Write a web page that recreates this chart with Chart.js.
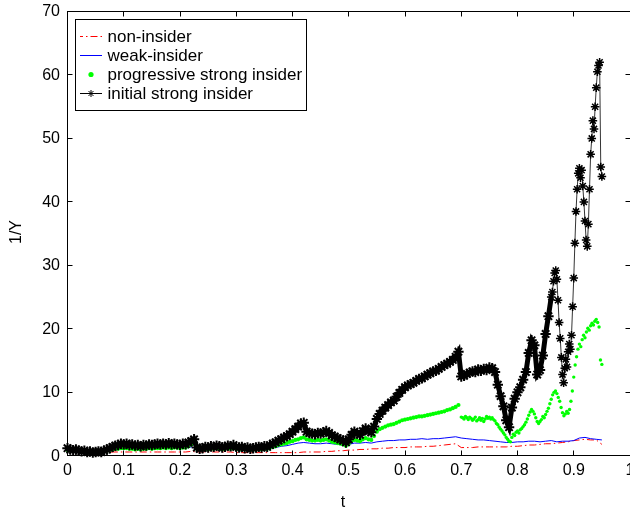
<!DOCTYPE html>
<html>
<head>
<meta charset="utf-8">
<style>
html,body{margin:0;padding:0;background:#fff;}
#wrap{width:630px;height:511px;position:relative;overflow:hidden;}
canvas{display:block;}
</style>
<script src="https://cdn.jsdelivr.net/npm/chart.js@4/dist/chart.umd.min.js"></script>
</head>
<body>
<div id="wrap"><canvas id="c" width="630" height="511"></canvas></div>
<script>
// ---------- texts ----------
const seriesLabels = ['non-insider', 'weak-insider', 'progressive strong insider', 'initial strong insider'];
const xTickLabels = ['0', '0.1', '0.2', '0.3', '0.4', '0.5', '0.6', '0.7', '0.8', '0.9', '1'];
const yTickLabels = ['0', '10', '20', '30', '40', '50', '60', '70'];
const xTitle = 't';
const yTitle = '1/Y';

// ---------- data (sampling start, sampling step) ----------
const nonInsiderStart = 0, nonInsiderStep = 0.01;
const nonInsiderValues = [
  0.9,0.8,0.7,0.6,0.5,0.5,0.5,0.5,0.6,0.6,
  0.6,0.6,0.6,0.6,0.6,0.6,0.6,0.6,0.6,0.6,
  0.6,0.6,0.7,0.6,0.6,0.6,0.6,0.6,0.6,0.6,
  0.5,0.5,0.5,0.5,0.5,0.5,0.5,0.5,0.5,0.5,
  0.5,0.5,0.6,0.6,0.6,0.6,0.7,0.7,0.8,0.8,
  0.9,0.9,1.0,1.0,1.1,1.1,1.2,1.2,1.3,1.3,
  1.3,1.4,1.4,1.4,1.5,1.5,1.6,1.7,1.8,1.9,
  1.3,1.3,1.3,1.4,1.4,1.4,1.4,1.4,1.4,1.5,
  1.5,1.6,1.7,1.7,1.8,1.9,1.9,2.0,2.1,2.2,
  2.4,2.5,2.6,2.5,2.5,1.8
];

const weakStart = 0, weakStep = 0.01;
const weakValues = [
  1.0,0.9,0.8,0.8,0.7,0.7,0.7,0.8,0.9,1.0,
  1.1,1.0,1.0,1.0,1.1,1.1,1.1,1.2,1.2,1.2,
  1.2,1.2,1.4,1.1,1.0,1.1,1.1,1.1,1.1,1.2,
  1.1,1.1,1.0,1.0,1.1,1.1,1.2,1.3,1.5,1.6,
  1.8,2.0,2.1,2.0,1.9,1.9,2.0,1.9,1.8,1.7,
  1.8,2.0,2.0,2.1,2.0,2.2,2.3,2.4,2.4,2.5,
  2.5,2.6,2.6,2.7,2.6,2.7,2.7,2.8,2.9,3.0,
  2.8,2.7,2.6,2.5,2.5,2.4,2.3,2.2,2.1,2.1,
  2.2,2.2,2.3,2.3,2.2,2.3,2.4,2.2,2.3,2.3,
  2.4,2.8,2.9,2.7,2.6,2.5
];

const progStart = 0, progStep = 0.005;
const progValues = [
  0.9,0.8,0.8,0.7,0.7,0.6,0.6,0.5,0.5,0.5,
  0.5,0.6,0.6,0.7,0.8,0.9,1.0,1.1,1.1,1.2,
  1.2,1.2,1.1,1.1,1.0,1.1,1.0,1.1,1.1,1.2,
  1.1,1.2,1.2,1.2,1.3,1.2,1.3,1.2,1.3,1.3,
  1.2,1.3,1.3,1.5,1.8,2.0,1.1,1.0,1.0,1.1,
  1.0,1.1,1.1,1.2,1.1,1.0,1.1,1.2,1.1,1.2,
  1.1,1.0,1.1,1.0,1.0,0.9,1.0,1.0,1.1,1.0,
  1.1,1.1,1.3,1.4,1.5,1.7,1.8,1.9,2.0,2.2,
  2.3,2.5,2.6,2.8,2.9,2.6,2.5,2.4,2.4,2.5,
  2.4,2.5,2.6,2.4,2.2,2.1,2.0,1.9,1.8,1.6,
  1.9,2.3,2.5,2.4,2.3,2.6,2.8,2.6,2.5,3.1,
  3.8,4.2,4.4,4.6,4.8,4.9,5.0,5.2,5.4,5.6,
  5.7,5.8,5.9,6.0,6.1,6.2,6.2,6.3,6.4,6.5,
  6.6,6.7,6.8,6.9,7.0,7.2,7.3,7.5,7.7,8.0
];
const progLateStart = 0.7, progLateStep = 0.0025;
const progLateValues = [
  6.1,6.0,5.8,6.2,6.0,5.7,6.1,5.9,5.6,5.8,
  6.1,5.5,5.7,6.0,5.6,5.9,5.4,5.8,6.2,5.9,
  6.1,5.8,6.0,5.7,5.5,5.1,4.9,4.5,4.2,3.9,
  3.6,3.3,2.9,2.6,2.3,2.2,2.9,3.4,3.2,3.7,
  3.9,3.6,4.1,4.3,4.6,4.9,5.3,5.8,6.4,6.9,
  7.3,7.0,6.6,6.0,5.4,5.1,5.4,5.7,6.2,6.0,
  6.5,7.0,7.5,8.2,8.9,9.6,10.0,10.2,9.8,9.2,
  8.6,7.6,6.8,6.3,6.6,7.0,6.7,7.3,8.6,10.2,
  12.4,14.3,15.6,16.8,17.6,17.2,18.3,19.0,18.6,19.5,
  20.1,19.8,20.5,20.9,20.6,21.2,21.5,21.0,20.3,15.1,
  14.4
];

const initStart = 0, initStep = 0.005;
const initValues = [
  1.2,1.0,0.9,1.0,0.8,0.7,0.8,0.6,0.7,0.5,
  0.6,0.7,0.6,0.8,1.0,1.2,1.4,1.6,1.7,1.9,
  1.8,1.9,1.7,1.8,1.6,1.7,1.5,1.7,1.6,1.8,
  1.7,1.8,1.9,1.8,1.9,1.8,2.0,1.8,1.9,1.8,
  1.7,1.9,1.8,2.1,2.3,2.6,1.3,1.1,1.2,1.4,
  1.3,1.5,1.4,1.6,1.5,1.3,1.4,1.6,1.5,1.7,
  1.4,1.3,1.4,1.2,1.3,1.1,1.2,1.3,1.4,1.3,
  1.5,1.4,1.7,1.9,2.1,2.4,2.6,2.9,3.1,3.4,
  3.8,4.2,4.6,5.1,5.2,3.8,3.6,3.5,3.4,3.6,
  3.5,3.7,3.9,3.6,3.2,3.0,2.8,2.6,2.4,2.1,
  2.6,3.3,3.8,3.5,3.3,3.9,4.3,3.9,3.7,4.6,
  5.8,6.6,7.1,7.6,8.0,8.4,8.7,9.3,9.9,10.4,
  10.8,11.1,11.3,11.5,11.8,12.1,12.2,12.5,12.8,13.0,
  13.3,13.4,13.7,14.0,14.3,14.5,14.8,15.1,15.6,16.4,
  12.5,12.6,12.9,13.1,13.3,13.2,13.6,13.4,13.7,13.5,
  13.9,13.8,13.2,11.2,9.4,7.8,5.6,4.5,7.6,9.0,
  10.0,10.8,12.0,13.2,16.2,18.2,17.4,12.8,13.5,15.8,
  19.2,22.0,25.0
];
const initLateStart = 0.862, initLateStep = 0.002;
const initLateValues = [
  25.8,27.5,28.8,29.2,27.8,24.5,21.0,18.5,15.5,12.8,
  11.5,13.8,15.2,14.0,16.4,17.6,16.8,19.0,23.5,28.0,
  33.5,38.5,42.0,44.5,45.3,43.8,45.0,42.5,40.0,37.0,
  34.0,33.0,36.5,42.0,47.5,50.0,52.8,51.5,55.0,58.0,
  60.5,61.5,62.0,45.5,44.0
];

// ---------- build points ----------
function toPoints(start, step, values) {
  return values.map((v, i) => ({ x: +(start + i * step).toFixed(4), y: v }));
}
const nonInsiderPts = toPoints(nonInsiderStart, nonInsiderStep, nonInsiderValues);
const weakPts = toPoints(weakStart, weakStep, weakValues);
const progPts = toPoints(progStart, progStep, progValues).concat(toPoints(progLateStart, progLateStep, progLateValues));
const initPts = toPoints(initStart, initStep, initValues).concat(toPoints(initLateStart, initLateStep, initLateValues));

const FONT = '"Liberation Sans", Arial, Helvetica, sans-serif';
const RED = '#ff0000', BLUE = '#0000ff', GREEN = '#00ff00', BLACK = '#000000';
const RED_DASH = [7, 3, 1.5, 3];

// ---------- MATLAB-style frame, ticks, labels and legend ----------
const framePlugin = {
  id: 'matlabFrame',
  afterDraw(chart) {
    const ctx = chart.ctx;
    const xs = chart.scales.x, ys = chart.scales.y;
    const L = Math.floor(xs.getPixelForValue(0)) + 0.5;
    const R = Math.floor(xs.getPixelForValue(1)) + 0.5;
    const T = Math.floor(ys.getPixelForValue(70)) + 0.5;
    const B = Math.floor(ys.getPixelForValue(0)) + 0.5;
    ctx.save();
    ctx.strokeStyle = '#000';
    ctx.lineWidth = 1;
    ctx.setLineDash([]);
    ctx.strokeRect(L, T, R - L, B - T);
    const tl = 5;
    ctx.fillStyle = '#000';
    ctx.font = '16px ' + FONT;
    ctx.textAlign = 'center';
    ctx.textBaseline = 'middle';
    xTickLabels.forEach(lbl => {
      const v = parseFloat(lbl);
      const px = Math.floor(xs.getPixelForValue(v)) + 0.5;
      ctx.beginPath();
      ctx.moveTo(px, B); ctx.lineTo(px, B - tl);
      ctx.moveTo(px, T); ctx.lineTo(px, T + tl);
      ctx.stroke();
      ctx.fillText(lbl, xs.getPixelForValue(v), 471);
    });
    ctx.textAlign = 'right';
    yTickLabels.forEach(lbl => {
      const v = parseFloat(lbl);
      const py = Math.floor(ys.getPixelForValue(v)) + 0.5;
      ctx.beginPath();
      ctx.moveTo(L, py); ctx.lineTo(L + tl, py);
      ctx.moveTo(R, py); ctx.lineTo(R - tl, py);
      ctx.stroke();
      ctx.fillText(lbl, 60, ys.getPixelForValue(v) + 0.5);
    });
    ctx.textAlign = 'center';
    ctx.textBaseline = 'alphabetic';
    ctx.fillText(xTitle, 343, 506.5);
    ctx.save();
    ctx.translate(20.5, 232);
    ctx.rotate(-Math.PI / 2);
    ctx.fillText(yTitle, 0, 0);
    ctx.restore();

    // legend
    const lx0 = 75.5, ly0 = 19.5, lx1 = 306.5, ly1 = 110.5;
    ctx.fillStyle = '#fff';
    ctx.fillRect(lx0, ly0, lx1 - lx0, ly1 - ly0);
    ctx.strokeStyle = '#000';
    ctx.strokeRect(lx0, ly0, lx1 - lx0, ly1 - ly0);
    const sx0 = 80, sx1 = 102, sxm = 91;
    seriesLabels.forEach((lbl, i) => {
      const cy = Math.round(35.5 + i * 19.3) + 0.5;
      ctx.save();
      ctx.lineWidth = 1;
      if (i === 0) {
        ctx.strokeStyle = RED;
        ctx.setLineDash(RED_DASH);
        ctx.lineDashOffset = 4;
        ctx.beginPath(); ctx.moveTo(sx0, cy); ctx.lineTo(sx1, cy); ctx.stroke();
      } else if (i === 1) {
        ctx.strokeStyle = BLUE;
        ctx.beginPath(); ctx.moveTo(sx0, cy); ctx.lineTo(sx1, cy); ctx.stroke();
      } else if (i === 2) {
        ctx.fillStyle = GREEN;
        ctx.beginPath(); ctx.arc(sxm, cy, 2.6, 0, Math.PI * 2); ctx.fill();
      } else {
        ctx.strokeStyle = BLACK;
        ctx.beginPath(); ctx.moveTo(sx0, cy); ctx.lineTo(sx1, cy); ctx.stroke();
        ctx.fillStyle = BLACK;
        Chart.helpers.drawPoint(ctx, { pointStyle: 'star', radius: 3.5, rotation: 0, borderWidth: 1 }, sxm, cy);
      }
      ctx.restore();
      ctx.fillStyle = '#000';
      ctx.font = '17px ' + FONT;
      ctx.textAlign = 'left';
      ctx.textBaseline = 'alphabetic';
      ctx.fillText(lbl, 107.5, cy + 5.5);
    });
    ctx.restore();
  }
};

new Chart(document.getElementById('c'), {
  type: 'scatter',
  data: {
    datasets: [
      {
        label: seriesLabels[3], data: initPts, order: 0,
        showLine: true, borderColor: BLACK, borderWidth: 0.8, tension: 0,
        segment: { borderWidth: c => (c.p0.parsed.x < 0.86 ? 5 : 0.8) },
        pointStyle: 'star',
        pointRadius: c => (c.raw && c.raw.x < 0.86 ? 5.2 : 4.3),
        pointBorderWidth: c => (c.raw && c.raw.x < 0.86 ? 2 : 1.5),
        pointBorderColor: BLACK, pointBackgroundColor: BLACK, clip: false
      },
      {
        label: seriesLabels[2], data: progPts, order: 1,
        showLine: false, pointStyle: 'circle',
        pointRadius: c => (c.raw && c.raw.x >= 0.7 ? 1.7 : 2.1),
        pointBorderWidth: 0, pointBackgroundColor: GREEN, pointBorderColor: GREEN,
        backgroundColor: GREEN, borderColor: GREEN, clip: false
      },
      {
        label: seriesLabels[1], data: weakPts, order: 2,
        showLine: true, borderColor: BLUE, borderWidth: 1, tension: 0, pointRadius: 0
      },
      {
        label: seriesLabels[0], data: nonInsiderPts, order: 3,
        showLine: true, borderColor: RED, borderWidth: 1, borderDash: RED_DASH, tension: 0, pointRadius: 0
      }
    ]
  },
  options: {
    responsive: false,
    animation: false,
    events: [],
    layout: { autoPadding: false, padding: { left: 67.5, right: -1, top: 11.5, bottom: 55.2 } },
    scales: {
      x: { type: 'linear', min: 0, max: 1, display: false },
      y: { type: 'linear', min: 0, max: 70, display: false }
    },
    plugins: { legend: { display: false }, tooltip: { enabled: false } }
  },
  plugins: [framePlugin]
});
</script>
</body>
</html>
